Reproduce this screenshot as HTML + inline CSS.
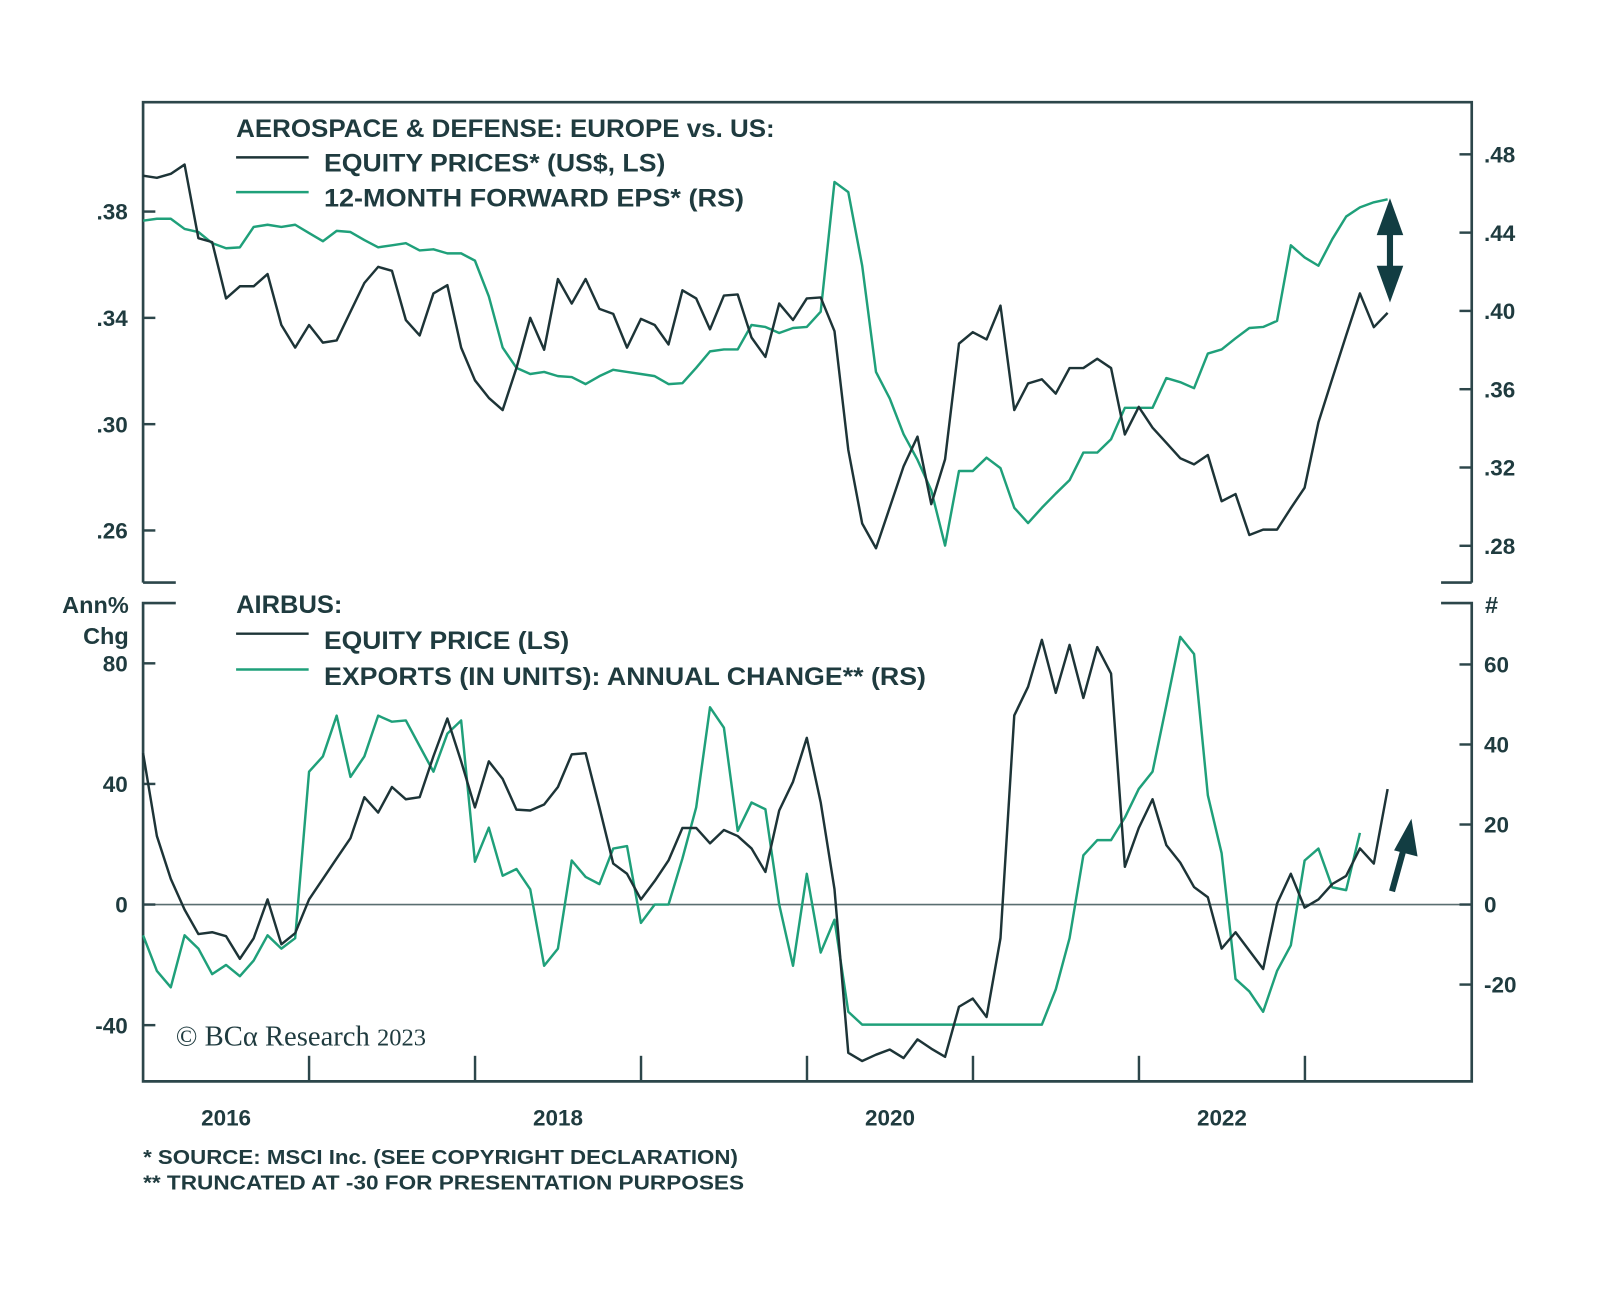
<!DOCTYPE html>
<html><head><meta charset="utf-8"><style>
html,body{margin:0;padding:0;background:#fff;}
svg{display:block;}
text{font-family:"Liberation Sans",sans-serif;fill:#1f3b3f;}
</style></head><body>
<svg id="chart" width="1600" height="1296" viewBox="0 0 1565.5 1268" preserveAspectRatio="none" xmlns="http://www.w3.org/2000/svg">
<g id="frame" stroke="#2c464a" stroke-width="2.6" fill="none">
<path d="M140,570 V100 H1440 V570"/>
<path d="M140,570 H172 M1410,570 H1440"/>
<path d="M172,590 H140 V1058 H1440 V590 H1410"/>
</g>
<line x1="140" y1="885" x2="1440" y2="885" stroke="#5a6e70" stroke-width="1.6"/>
<g id="ticks" stroke="#2c464a" stroke-width="2.4"></g>
<g id="labels" font-weight="bold" font-size="22"></g>
<g id="series"></g>
<g font-weight="bold">
<text x="231" y="134" font-size="24" textLength="527" lengthAdjust="spacingAndGlyphs">AEROSPACE &amp; DEFENSE: EUROPE vs. US:</text>
<line x1="231" y1="154" x2="302" y2="154" stroke="#1d3437" stroke-width="2.4"/>
<text x="317" y="168" font-size="24" textLength="334" lengthAdjust="spacingAndGlyphs">EQUITY PRICES* (US$, LS)</text>
<line x1="231" y1="188" x2="302" y2="188" stroke="#1fa07a" stroke-width="2.4"/>
<text x="317" y="202" font-size="24" textLength="411" lengthAdjust="spacingAndGlyphs">12-MONTH FORWARD EPS* (RS)</text>
</g>
<g font-weight="bold">
<text x="231" y="600" font-size="24" textLength="104" lengthAdjust="spacingAndGlyphs">AIRBUS:</text>
<line x1="231" y1="620" x2="302" y2="620" stroke="#1d3437" stroke-width="2.4"/>
<text x="317" y="635" font-size="24" textLength="240" lengthAdjust="spacingAndGlyphs">EQUITY PRICE (LS)</text>
<line x1="231" y1="655" x2="302" y2="655" stroke="#1fa07a" stroke-width="2.4"/>
<text x="317" y="670" font-size="24" textLength="589" lengthAdjust="spacingAndGlyphs">EXPORTS (IN UNITS): ANNUAL CHANGE** (RS)</text>
</g>
<text x="126" y="600" font-size="23" font-weight="bold" text-anchor="end">Ann%</text>
<text x="126" y="630" font-size="23" font-weight="bold" text-anchor="end">Chg</text>
<text x="1453" y="600" font-size="23" font-weight="bold">#</text>
<text x="172" y="1023" font-size="28" style="font-family:'Liberation Serif',serif" fill="#3a4a4c">© BCα Research <tspan font-size="24">2023</tspan></text>
<text x="140" y="1139" font-size="20" font-weight="bold" textLength="582" lengthAdjust="spacingAndGlyphs">*  SOURCE: MSCI Inc. (SEE COPYRIGHT DECLARATION)</text>
<text x="140" y="1164" font-size="20" font-weight="bold" textLength="588" lengthAdjust="spacingAndGlyphs">** TRUNCATED AT -30 FOR PRESENTATION PURPOSES</text>
<g fill="#123d42" stroke="#123d42">
<line x1="1360" y1="215" x2="1360" y2="275" stroke-width="6"/>
<polygon points="1360,194 1347,230 1373,230" stroke="none"/>
<polygon points="1360,296 1347,260 1373,260" stroke="none"/>
</g>
<g fill="#123d42" stroke="#123d42">
<line x1="1362" y1="872" x2="1375" y2="825" stroke-width="6"/>
<polygon points="1381,801 1364,832 1387,838" stroke="none"/>
</g>
</svg>
<script>
const topEquity=[0.3935,0.3927,0.3942,0.3977,0.3700,0.3685,0.3473,0.3519,0.3519,0.3565,0.3373,0.3288,0.3373,0.3307,0.3315,0.3423,0.3531,0.3592,0.3577,0.3392,0.3334,0.3492,0.3523,0.3288,0.3165,0.3099,0.3053,0.3211,0.3400,0.3280,0.3546,0.3454,0.3546,0.3434,0.3415,0.3288,0.3396,0.3373,0.3300,0.3504,0.3473,0.3357,0.3484,0.3488,0.3326,0.3253,0.3454,0.3392,0.3473,0.3477,0.3350,0.2903,0.2626,0.2533,0.2687,0.2841,0.2953,0.2699,0.2868,0.3303,0.3346,0.3319,0.3446,0.3053,0.3153,0.3169,0.3115,0.3211,0.3211,0.3246,0.3211,0.2961,0.3065,0.2987,0.2930,0.2872,0.2849,0.2884,0.2710,0.2737,0.2583,0.2603,0.2603,0.2684,0.2761,0.3007,0.3172,0.3334,0.3492,0.3365,0.3419];
const topEps=[0.4461,0.4471,0.4471,0.4419,0.4403,0.4346,0.4320,0.4325,0.4429,0.4440,0.4429,0.4440,0.4398,0.4356,0.4409,0.4403,0.4362,0.4325,0.4335,0.4346,0.4309,0.4315,0.4294,0.4294,0.4257,0.4074,0.3813,0.3709,0.3678,0.3688,0.3667,0.3662,0.3626,0.3667,0.3699,0.3688,0.3678,0.3667,0.3626,0.3631,0.3709,0.3793,0.3803,0.3803,0.3928,0.3918,0.3887,0.3913,0.3918,0.3996,0.4659,0.4607,0.4231,0.3688,0.3552,0.3370,0.3239,0.3083,0.2801,0.3182,0.3182,0.3250,0.3197,0.2994,0.2916,0.2994,0.3067,0.3135,0.3276,0.3276,0.3344,0.3505,0.3505,0.3505,0.3657,0.3636,0.3605,0.3782,0.3803,0.3860,0.3913,0.3918,0.3949,0.4335,0.4273,0.4231,0.4367,0.4482,0.4529,0.4555,0.4570];
const airbusEquity=[50.2,22.7,8.5,-1.7,-9.8,-9.2,-10.5,-18.0,-11.2,1.7,-13.2,-9.5,1.7,8.5,15.3,22.0,35.6,30.5,39.0,34.9,35.6,49.2,61.7,47.5,32.2,47.5,41.7,31.5,31.2,33.2,39.0,49.8,50.2,32.2,13.6,10.2,1.7,7.8,14.6,25.4,25.4,20.3,24.7,22.7,18.6,10.8,31.2,40.7,55.3,33.9,5.1,-49.2,-51.9,-49.8,-48.1,-50.9,-44.7,-47.8,-50.5,-33.9,-31.2,-37.3,-11.2,62.7,72.2,87.8,70.2,86.1,68.5,85.4,76.6,12.5,25.4,34.9,19.7,13.9,5.8,2.4,-14.6,-9.2,-15.3,-21.4,0.3,10.2,-1.0,1.7,6.8,9.5,18.6,13.6,38.3];
const airbusExports=[-7.7,-16.6,-20.7,-7.7,-11.0,-17.4,-15.1,-17.9,-14.0,-7.7,-11.0,-8.4,33.2,37.0,47.2,31.9,37.0,47.2,45.7,46.0,39.6,33.2,42.7,46.0,10.7,19.2,7.2,8.9,3.8,-15.3,-11.0,11.0,6.9,5.1,14.0,14.6,-4.6,0,0,11.5,24.3,49.3,44.2,18.4,25.5,23.8,0,-15.3,7.7,-12.0,-3.8,-26.8,-30,-30,-30,-30,-30,-30,-30,-30,-30,-30,-30,-30,-30,-30,-21.2,-8.4,12.3,16.1,16.1,21.7,28.9,33.2,49.8,66.9,62.6,27.3,12.8,-18.6,-21.7,-26.8,-16.6,-10.2,11.0,14.0,4.3,3.6,17.9];
const topLeftTicks=[0.38,0.34,0.30,0.26];
const topLeftLabels=[".38",".34",".30",".26"];
const topRightTicks=[0.48,0.44,0.40,0.36,0.32,0.28];
const topRightLabels=[".48",".44",".40",".36",".32",".28"];
const botLeftTicks=[80,40,0,-40];
const botLeftLabels=["80","40","0","-40"];
const botRightTicks=[60,40,20,0,-20];
const botRightLabels=["60","40","20","0","-20"];
const years=[2016,2018,2020,2022];
const yearTicks=[2017,2018,2019,2020,2021,2022,2023];
const startYear=2016;

const NS="http://www.w3.org/2000/svg";
const xMonth=i=>140+i*13.53;
const xYear=t=>140+(t-startYear)*162.4;
const yTopL=v=>207+(0.38-v)/0.04*104;
const yTopR=v=>151+(0.48-v)/0.04*76.6;
const yBotL=v=>885-v/40*118;
const yBotR=v=>885-v/20*78.3;

function mk(tag,attrs,parent){const e=document.createElementNS(NS,tag);for(const k in attrs)e.setAttribute(k,attrs[k]);parent.appendChild(e);return e;}
const series=document.getElementById('series');
function line(data,yf,color,name){
  const d=data.map((v,i)=>(i?'L':'M')+xMonth(i).toFixed(1)+','+yf(v).toFixed(1)).join(' ');
  const p=mk('path',{d:d,fill:'none',stroke:color,'stroke-width':2.4,'stroke-linejoin':'round'},series);
  
  
}
line(topEps,yTopR,'#1fa07a','top-forward-eps-line');
line(topEquity,yTopL,'#1d3437','top-equity-prices-line');
line(airbusExports,yBotR,'#1fa07a','airbus-exports-line');
line(airbusEquity,yBotL,'#1d3437','airbus-equity-price-line');

const ticks=document.getElementById('ticks');
const labels=document.getElementById('labels');
function axis(vals,labs,yf,side,nm){
  vals.forEach((v,i)=>{
    const y=yf(v);
    const t=side==='L'?mk('line',{x1:140,x2:152,y1:y,y2:y},ticks):mk('line',{x1:1428,x2:1440,y1:y,y2:y},ticks);
    
    
    const tx=mk('text',side==='L'?{x:125,y:y+8,'text-anchor':'end'}:{x:1452,y:y+8},labels);
    tx.textContent=labs[i];
    
    
  });
}
axis(topLeftTicks,topLeftLabels,yTopL,'L','top-left-axis');
axis(topRightTicks,topRightLabels,yTopR,'R','top-right-axis');
axis(botLeftTicks,botLeftLabels,yBotL,'L','bottom-left-axis');
axis(botRightTicks,botRightLabels,yBotR,'R','bottom-right-axis');
yearTicks.forEach(t=>{
  const x=xYear(t);
  const l=mk('line',{x1:x,x2:x,y1:1033,y2:1058},ticks);
  
  
});
years.forEach(yv=>{
  const tx=mk('text',{x:xYear(yv+0.5),y:1101,'text-anchor':'middle'},labels);
  tx.textContent=String(yv);
  
  
});
</script>
</body></html>
